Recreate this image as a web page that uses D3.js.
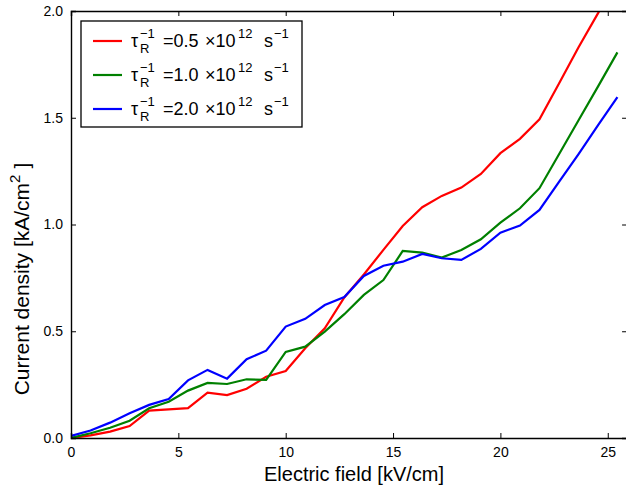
<!DOCTYPE html>
<html>
<head>
<meta charset="utf-8">
<script src="https://cdn.jsdelivr.net/npm/d3@7"></script>
<style>
  body { margin: 0; background: #fff; }
  svg { display: block; font-family: "Liberation Sans", Arial, sans-serif; }
</style>
</head>
<body>
<div id="chart"></div>
<script>
// electric field values (kV/cm)
const fieldVals = [0, 0.91, 1.82, 2.73, 3.64, 4.55, 5.45, 6.36, 7.27, 8.18, 9.09, 10.0, 10.91, 11.82,
  12.73, 13.64, 14.55, 15.45, 16.36, 17.27, 18.18, 19.09, 20.0, 20.91, 21.82, 22.73, 23.64, 24.55, 25.45];

// current density (kA/cm^2)
const rate05 = [0, 0.012, 0.03, 0.056, 0.128, 0.134, 0.14, 0.212, 0.201, 0.231, 0.287, 0.314, 0.42, 0.514,
  0.658, 0.766, 0.881, 0.993, 1.081, 1.134, 1.173, 1.237, 1.334, 1.401, 1.493, 1.66, 1.83, 1.99, 2.16];
const rate10 = [0, 0.022, 0.048, 0.081, 0.139, 0.17, 0.222, 0.258, 0.253, 0.275, 0.272, 0.403, 0.428, 0.498,
  0.58, 0.67, 0.74, 0.876, 0.868, 0.845, 0.881, 0.931, 1.009, 1.076, 1.17, 1.329, 1.488, 1.647, 1.806];
const rate20 = [0.01, 0.035, 0.072, 0.116, 0.155, 0.183, 0.27, 0.319, 0.278, 0.369, 0.409, 0.522, 0.558, 0.623,
  0.66, 0.759, 0.807, 0.826, 0.862, 0.842, 0.834, 0.886, 0.962, 0.995, 1.068, 1.20, 1.33, 1.465, 1.597];

const seriesNames = ["0.5", "1.0", "2.0"];
const seriesColors = ["#ff0000", "#008000", "#0000ff"];
const xTicks = [0, 5, 10, 15, 20, 25];
const yTicks = [0, 0.5, 1.0, 1.5, 2.0];

const width = 626, height = 496;
const margin = { top: 11, left: 71, bottom: 58 };
const xMax = 25.9;

const svg = d3.select("#chart").append("svg")
  .attr("width", width).attr("height", height);

const x = d3.scaleLinear().domain([0, xMax]).range([margin.left, margin.left + xMax * 21.47]);
const y = d3.scaleLinear().domain([0, 2]).range([height - margin.bottom, margin.top]);

svg.append("clipPath").attr("id", "plot")
  .append("rect")
  .attr("x", x(0)).attr("y", y(2))
  .attr("width", x(xMax) - x(0)).attr("height", y(0) - y(2));

// curves
const line = d3.line().x((d, i) => x(fieldVals[i])).y(d => y(d));
[rate05, rate10, rate20].forEach((s, k) => {
  svg.append("path")
    .datum(s)
    .attr("clip-path", "url(#plot)")
    .attr("fill", "none")
    .attr("stroke", seriesColors[k])
    .attr("stroke-width", 2.2)
    .attr("d", line);
});

// axes, ticks pointing inward on all four sides
const tickLen = 5;
svg.append("g").attr("transform", `translate(0,${y(0)})`)
  .call(d3.axisBottom(x).tickValues(xTicks).tickSize(-tickLen).tickPadding(9).tickFormat(d3.format("d")));
svg.append("g").attr("transform", `translate(0,${y(2)})`)
  .call(d3.axisTop(x).tickValues(xTicks).tickSize(-tickLen).tickFormat(""));
svg.append("g").attr("transform", `translate(${x(0)},0)`)
  .call(d3.axisLeft(y).tickValues(yTicks).tickSize(-tickLen).tickPadding(8).tickFormat(d3.format(".1f")));
svg.append("g").attr("transform", `translate(${x(xMax)},0)`)
  .call(d3.axisRight(y).tickValues(yTicks).tickSize(-tickLen).tickFormat(""));

svg.selectAll(".domain").attr("stroke", "#000").attr("stroke-width", 1.4);
svg.selectAll(".tick line").attr("stroke", "#000").attr("stroke-width", 1);
svg.selectAll(".tick text").attr("font-size", 14).attr("fill", "#000")
  .attr("font-family", "Liberation Sans, Arial, sans-serif");

// axis labels
svg.append("text")
  .attr("x", 354).attr("y", 481)
  .attr("text-anchor", "middle").attr("font-size", 20)
  .text("Electric field [kV/cm]");

const yl = svg.append("text")
  .attr("transform", "translate(29,279) rotate(-90)")
  .attr("text-anchor", "middle").attr("font-size", 21);
yl.append("tspan").text("Current density [kA/cm");
yl.append("tspan").attr("dy", -9).attr("font-size", 15).text("2");
yl.append("tspan").attr("dy", 9).attr("dx", 6).text("]");

// legend
const lg = svg.append("g");
lg.append("rect")
  .attr("x", 81).attr("y", 21).attr("width", 221).attr("height", 106)
  .attr("fill", "#fff").attr("stroke", "#000").attr("stroke-width", 1.3);

seriesNames.forEach((name, k) => {
  const cy = 41 + k * 34;
  lg.append("line")
    .attr("x1", 93).attr("x2", 122).attr("y1", cy).attr("y2", cy)
    .attr("stroke", seriesColors[k]).attr("stroke-width", 2.2);
  const t = lg.append("g").attr("font-size", 18).attr("fill", "#000");
  t.append("text").attr("x", 131).attr("y", cy + 6).text("τ");
  t.append("text").attr("x", 140).attr("y", cy + 12).attr("font-size", 13).text("R");
  t.append("text").attr("x", 140).attr("y", cy - 3).attr("font-size", 13).text("−1");
  t.append("text").attr("x", 163).attr("y", cy + 6).text(`=${name}`);
  t.append("text").attr("x", 205).attr("y", cy + 6).text("×10");
  t.append("text").attr("x", 238).attr("y", cy - 3).attr("font-size", 13).text("12");
  t.append("text").attr("x", 264).attr("y", cy + 6).text("s");
  t.append("text").attr("x", 274).attr("y", cy - 3).attr("font-size", 13).text("−1");
});
</script>
</body>
</html>
